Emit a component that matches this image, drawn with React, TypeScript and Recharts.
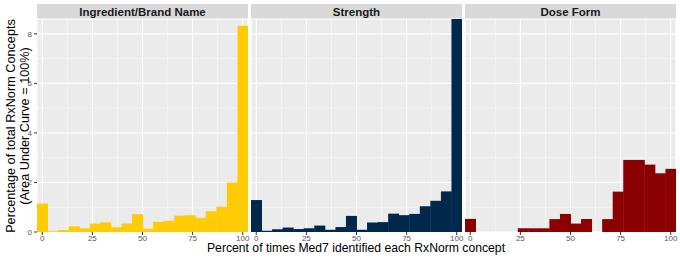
import * as React from "react";
import { Bar, BarChart, CartesianGrid, XAxis, YAxis } from "recharts";

// histogram bin centres (20 bins, 0..100)
const BIN_CENTERS = [
  0, 5.26, 10.53, 15.79, 21.05, 26.32, 31.58, 36.84, 42.11, 47.37, 52.63,
  57.89, 63.16, 68.42, 73.68, 78.95, 84.21, 89.47, 94.74, 100,
];

const INGREDIENT = [
  1.15, 0.03, 0.08, 0.23, 0.15, 0.34, 0.39, 0.19, 0.34, 0.72, 0.13, 0.41,
  0.45, 0.66, 0.68, 0.57, 0.84, 1.02, 2.0, 8.33,
];
const STRENGTH = [
  1.29, 0.05, 0.11, 0.18, 0.12, 0.15, 0.26, 0.09, 0.2, 0.65, 0.09, 0.38, 0.4,
  0.74, 0.68, 0.73, 1.04, 1.26, 1.64, 8.6,
];
const DOSE_FORM = [
  0.53, 0, 0, 0, 0, 0.15, 0.15, 0.15, 0.52, 0.73, 0.34, 0.52, 0, 0.52, 1.63,
  2.91, 2.91, 2.72, 2.37, 2.55,
];

const PANEL_TITLES = ["Ingredient/Brand Name", "Strength", "Dose Form"];
const PANEL_COLORS = ["#FFCB05", "#00274C", "#8B0000"];

const X_TICKS = [0, 25, 50, 75, 100];
const X_MINOR = [12.5, 37.5, 62.5, 87.5];
const Y_TICKS = [0, 2, 4, 6, 8];
const Y_MINOR = [1, 3, 5, 7];
const X_DOMAIN: [number, number] = [-2.63, 102.63];
const Y_DOMAIN: [number, number] = [0, 8.6];

const FONT = '"Liberation Sans", Arial, Helvetica, sans-serif';

function toRows(values: number[]) {
  return BIN_CENTERS.map((x, i) => ({ x, y: values[i] }));
}

type PanelProps = {
  values: number[];
  color: string;
  title: string;
  left: number;
  showY: boolean;
};

function Panel({ values, color, title, left, showY }: PanelProps) {
  const yw = showY ? 37 : 0;
  const pad = 8;
  const plotW = 211;
  const width = yw + plotW + pad * 2;
  const chartLeft = left - yw - pad;
  return (
    <>
      <div
        style={{
          position: "absolute",
          left,
          top: 4,
          width: plotW,
          height: 15,
          background: "#D9D9D9",
          color: "#1A1A1A",
          fontFamily: FONT,
          fontWeight: "bold",
          fontSize: 11.5,
          lineHeight: "16px",
          textAlign: "center",
        }}
      >
        {title}
      </div>
      <div style={{ position: "absolute", left: chartLeft, top: 0 }}>
        <BarChart
          width={width}
          height={259}
          data={toRows(values)}
          margin={{ top: 19, right: pad, bottom: 0, left: pad }}
          barCategoryGap={0}
          barGap={0}
        >
          <CartesianGrid fill="#EBEBEB" stroke="#FFFFFF" strokeWidth={1.1} />
          <CartesianGrid
            stroke="#FFFFFF"
            strokeWidth={0.5}
            horizontalValues={Y_MINOR}
            verticalValues={X_MINOR}
          />
          <XAxis
            dataKey="x"
            type="number"
            domain={X_DOMAIN}
            ticks={X_TICKS}
            allowDataOverflow
            axisLine={false}
            tickSize={3}
            tickMargin={0}
            tickLine={{ stroke: "#333333" }}
            tick={{ fontSize: 8, fill: "#555555", fontFamily: FONT }}
            height={27}
            interval={0}
          />
          <YAxis
            type="number"
            domain={Y_DOMAIN}
            ticks={Y_TICKS}
            allowDataOverflow
            hide={!showY}
            width={yw}
            axisLine={false}
            tickSize={3}
            tickMargin={2}
            tickLine={{ stroke: "#333333" }}
            tick={{ fontSize: 8, fill: "#555555", fontFamily: FONT }}
            interval={0}
          />
          <Bar dataKey="y" fill={color} isAnimationActive={false} />
        </BarChart>
      </div>
    </>
  );
}

export default function App() {
  const series = [INGREDIENT, STRENGTH, DOSE_FORM];
  const lefts = [37, 251, 465];
  return (
    <div
      style={{
        position: "absolute",
        left: 0,
        top: 0,
        width: 680,
        height: 259,
        background: "#FFFFFF",
        overflow: "hidden",
      }}
    >
      {series.map((values, i) => (
        <Panel
          key={PANEL_TITLES[i]}
          values={values}
          color={PANEL_COLORS[i]}
          title={PANEL_TITLES[i]}
          left={lefts[i]}
          showY={i === 0}
        />
      ))}
      <svg
        width={680}
        height={259}
        style={{ position: "absolute", left: 0, top: 0, pointerEvents: "none" }}
      >
        <text
          transform="translate(15,126) rotate(-90)"
          textAnchor="middle"
          fontFamily={FONT}
          fontSize={12.7}
          fill="#000000"
        >
          Percentage of total RxNorm Concepts
        </text>
        <text
          transform="translate(29,126) rotate(-90)"
          textAnchor="middle"
          fontFamily={FONT}
          fontSize={12.7}
          fill="#000000"
        >
          (Area Under Curve = 100%)
        </text>
        <text
          x={356}
          y={252}
          textAnchor="middle"
          fontFamily={FONT}
          fontSize={12.2}
          fill="#000000"
        >
          Percent of times Med7 identified each RxNorm concept
        </text>
      </svg>
    </div>
  );
}
